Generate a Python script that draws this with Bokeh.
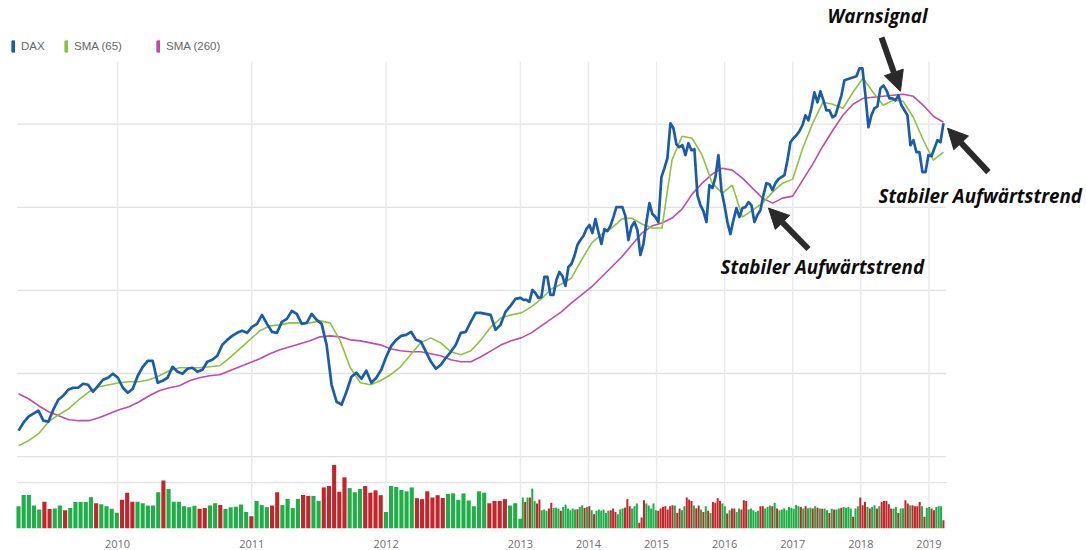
import numpy as np
from bokeh.plotting import figure
from bokeh.models import (Range1d, FixedTicker, Legend, LegendItem, Label, Arrow, NormalHead)
from bokeh.embed import file_html
from bokeh.resources import INLINE

# ---------------- data ----------------
year_labels = ["2010", "2011", "2012", "2013", "2014", "2015", "2016", "2017", "2018", "2019"]

# DAX closes, 2009 -> end of 2012 (coarse sampling)
dax_early = [4625, 4817, 4961, 5033, 5105, 4865, 4841, 5129, 5369, 5465,
             5609, 5657, 5657, 5753, 5729, 5561, 5705, 5850, 5898, 5994,
             5898, 5657, 5537, 5633, 5946, 6162, 6306, 6306, 5777, 5826,
             5898, 6162, 6042, 5994, 6114, 6138, 6042, 6090, 6282, 6330,
             6426, 6690, 6810, 6906, 6978, 7027, 6978, 7123, 7195, 7411,
             7195, 7003, 6978, 7243, 7315, 7507, 7435, 7195, 7219, 7435,
             7291, 7195, 6690, 5729, 5321, 5249, 5561, 5922, 6018, 5874,
             6066, 5777, 5898, 6090, 6402, 6666, 6810, 6906, 6930, 7003,
             6810, 6762, 6522, 6282, 6114, 6210, 6378, 6522, 6690, 6978,
             7003, 7243, 7459, 7459, 7435, 7411, 7051, 7171, 7483, 7627,
             7795]
# DAX closes, 2013 -> 2019 (compressed time axis)
dax_late = [7819, 7771, 7771, 7723, 8011, 7939, 7819, 7843, 8324, 8324,
            7891, 7891, 8252, 8444, 8348, 8107, 8564, 8636, 8828, 9092,
            9212, 9308, 9477, 9573, 9380, 9717, 9405, 9116, 9477, 9429,
            9549, 9765, 10005, 10005, 10005, 9789, 9212, 9525, 9645, 9453,
            8852, 9116, 9645, 10101, 9837, 9765, 9645, 10726, 10942, 11182,
            12023, 11903, 11518, 11446, 11494, 11254, 11542, 11374, 11398, 10293,
            10053, 9909, 9645, 10533, 10461, 10726, 11254, 10413, 10053, 9645,
            9356, 9693, 9981, 9765, 9981, 10005, 10125, 10053, 9645, 9813,
            9933, 10293, 10581, 10557, 10413, 10581, 10678, 10726, 10774, 11134,
            11566, 11662, 11734, 11831, 11975, 12215, 12095, 12383, 12767, 12527,
            12791, 12575, 12335, 12335, 12167, 12215, 12455, 12695, 13056, 13080,
            13104, 13128, 13152, 13344, 13344, 12695, 11927, 12215, 12383, 12431,
            12863, 12935, 12815, 12623, 12623, 12575, 12695, 12455, 12335, 12215,
            11494, 11614, 11326, 11326, 10846, 10846, 11254, 11230, 11422, 11614,
            11566, 12023]

sma65 = [4264, 4384, 4552, 4841, 5009, 5153, 5369, 5561, 5681, 5729,
         5777, 5802, 5802, 5850, 5946, 6066, 6138, 6138, 6138, 6162,
         6186, 6378, 6594, 6810, 7027, 7147, 7171, 7219, 7219, 7219,
         7267, 7219, 6786, 6138, 5777, 5729, 5826, 5970, 6162, 6450,
         6738, 6858, 6738, 6522, 6450, 6546, 6810, 7123, 7339, 7411,
         7459, 7603, 7795, 8035, 8155, 8300, 8732, 9140, 9356, 9501,
         9717, 9741, 9597, 9501, 9501, 11134, 11710, 11662, 11254, 10581,
         10341, 10533, 9765, 9933, 10101, 10365, 10581, 10678, 11422, 12023,
         12527, 12479, 12383, 12767, 13104, 12767, 12455, 12575, 12551, 12167,
         11614, 11134, 11326]

sma260 = [5513, 5393, 5225, 5081, 4985, 4889, 4865, 4865, 4937, 5033,
          5129, 5201, 5321, 5465, 5585, 5657, 5705, 5826, 5898, 5946,
          5970, 6066, 6162, 6258, 6354, 6474, 6570, 6642, 6714, 6786,
          6882, 6906, 6882, 6810, 6786, 6738, 6690, 6594, 6546, 6522,
          6522, 6474, 6426, 6330, 6282, 6282, 6402, 6546, 6690, 6786,
          6858, 6978, 7147, 7315, 7483, 7699, 7891, 8083, 8324, 8564,
          8804, 9092, 9380, 9549, 9621, 9741, 9957, 10317, 10581, 10798,
          10942, 10894, 10702, 10461, 10221, 10101, 10221, 10269, 10654, 11038,
          11470, 11855, 12215, 12479, 12623, 12647, 12671, 12695, 12719, 12671,
          12455, 12191, 12047]

vol_early = [0.97, 1.46, 1.46, 1.00, 0.83, 1.17, 0.85, 0.87, 1.00, 0.80,
             0.89, 1.15, 1.15, 1.15, 1.36, 1.10, 1.06, 0.97, 0.86, 0.69,
             1.25, 1.56, 1.16, 1.16, 1.10, 1.00, 1.00, 1.58, 2.09, 1.72,
             1.16, 1.16, 0.97, 0.93, 0.99, 0.86, 0.89, 1.00, 1.10, 1.02,
             0.85, 0.93, 0.95, 1.05, 0.72, 0.53, 1.20, 1.02, 0.93, 1.00,
             1.58, 1.02, 1.29, 0.89, 1.29, 1.46, 1.42, 1.42, 1.20, 1.79,
             1.85, 2.77, 1.60, 2.23, 1.76, 1.58, 1.72, 1.85, 1.56, 1.66,
             1.45, 0.72, 1.85, 1.81, 1.68, 1.62, 1.79, 1.32, 1.28, 1.62,
             1.35, 1.45, 1.33, 1.50, 1.53, 1.25, 1.53, 1.22, 0.97, 1.62,
             1.56, 1.10, 1.20, 1.20, 1.28, 1.00, 1.10, 0.42]
vol_early_dir = ("gggggrrggr" "gggggrgggg" "rrrgggggrg" "gggggrrggr" "gggggrgggr"
                 "rggggrrggr" "rrrrgggrrr" "rggggggrrr" "rrrggggggg" "grrrrggg")

vol_late = [1.35, 1.16, 1.35, 1.35, 1.74, 1.19, 1.09, 1.26, 0.80, 0.83,
            0.77, 0.87, 1.12, 0.90, 0.91, 0.87, 0.77, 0.94, 1.04, 0.87,
            0.80, 0.87, 0.83, 0.84, 0.94, 1.01, 0.90, 0.94, 0.97, 0.80,
            0.62, 0.77, 0.83, 0.77, 0.83, 0.68, 0.77, 0.80, 0.87, 0.72,
            0.62, 0.83, 0.87, 0.91, 1.28, 0.97, 0.87, 0.97, 1.09, 0.25,
            0.48, 1.23, 1.09, 1.00, 0.87, 1.09, 0.80, 0.77, 0.87, 0.94,
            0.97, 0.83, 0.97, 1.01, 1.00, 0.68, 0.87, 0.80, 0.97, 1.35,
            1.26, 1.20, 1.00, 0.88, 1.00, 0.83, 0.72, 0.97, 0.77, 0.68,
            1.16, 1.12, 1.32, 1.20, 1.09, 0.97, 0.65, 0.80, 0.87, 0.87,
            0.72, 0.87, 0.83, 1.23, 1.20, 0.83, 0.87, 0.80, 0.72, 0.77,
            0.97, 0.97, 0.87, 0.94, 1.00, 0.97, 1.12, 0.87, 0.80, 0.83,
            0.88, 0.80, 0.94, 0.90, 0.86, 1.03, 0.97, 0.94, 0.87, 0.97,
            0.88, 0.91, 0.87, 0.97, 0.91, 0.87, 0.86, 0.87, 0.80, 0.68,
            0.86, 0.83, 0.83, 0.87, 0.90, 0.94, 0.90, 0.94, 0.87, 0.51,
            0.87, 0.97, 1.35, 1.01, 1.16, 0.94, 0.87, 0.94, 1.01, 0.87,
            0.97, 1.16, 1.20, 1.20, 1.06, 0.87, 0.87, 0.94, 0.68, 0.87,
            0.88, 1.23, 1.09, 1.01, 1.01, 0.97, 0.97, 1.16, 0.97, 0.51,
            0.90, 0.94, 0.87, 0.80, 0.94, 0.97, 0.97, 0.36]
vol_late_dir = ("grgrggrrgg" "grrgggrggg" "gggrggrgrg" "rggggggrrr" "gggrrrgggr"
                "rrgggggrrr" "rrrrgrrggr" "rrgrrgrgrg" "rrrrggrgrr" "ggrrrggggg"
                "rrgggrgrgg" "gggggggrgr" "ggrgrgrggr" "grggrggggr" "ggrrrgrggr"
                "grrrrrggrg" "grrgrrrrgr" "ggrrgggr")

# ---------------- layout constants ----------------
LATE_YEAR = 0.507            # a year after 2013 is drawn at about half width
year_pos = [0.0, 1.0, 2.0, 3.0] + [round(3 + k * LATE_YEAR, 3) for k in range(1, 7)]
X_START, X_SPLIT, X_END = -0.737, 3.0, 6.15
PRICE_LO, PRICE_HI = 2270, 14977
VOL_HI = 23.0

BLUE, GREEN, MAGENTA = "#1b5ca8", "#8cc43f", "#c24aa8"
UP, DOWN = "#1fae48", "#c0272d"
GRID = "#e1e1e1"

p = figure(width=1086, height=550, output_backend="svg", toolbar_location=None,
           x_range=Range1d(-0.8712, 7.2152), y_range=Range1d(PRICE_LO, PRICE_HI),
           y_axis_location=None, min_border_left=0, min_border_right=0,
           min_border_top=0, min_border_bottom=0)
p.outline_line_color = None
p.xgrid.visible = False
p.ygrid.visible = False
p.extra_y_ranges = {"vol": Range1d(0, VOL_HI)}

# grid lines (only over the data area)
levels = [4000, 6000, 8000, 10000, 12000]
p.segment(x0=[X_START - 0.01] * len(levels), x1=[X_END + 0.02] * len(levels),
          y0=levels, y1=levels, line_color=GRID, line_width=1.3)
p.segment(x0=[X_START - 0.01], x1=[X_END + 0.02], y0=[2], y1=[2],
          line_color=GRID, line_width=1.3, y_range_name="vol")
p.segment(x0=year_pos, x1=year_pos, y0=[PRICE_LO] * len(year_pos),
          y1=[13500] * len(year_pos), line_color="#ebebeb", line_width=1.5)

# volume bars
xe = np.linspace(X_START, X_SPLIT, len(vol_early))
xl = np.linspace(X_SPLIT, X_END, len(vol_late) + 1)[1:]
ce = [UP if d == "g" else DOWN for d in vol_early_dir]
cl = [UP if d == "g" else DOWN for d in vol_late_dir]
p.vbar(x=xe, top=vol_early, bottom=0, width=(xe[1] - xe[0]) * 0.8,
       fill_color=ce, line_color=None, y_range_name="vol")
p.vbar(x=xl, top=vol_late, bottom=0, width=(xl[1] - xl[0]) * 0.85,
       fill_color=cl, line_color=None, y_range_name="vol")

# price lines
x_dax = np.concatenate([np.linspace(X_START, X_SPLIT, len(dax_early) + 1)[:-1],
                        np.linspace(X_SPLIT, X_END, len(dax_late))])
x_sma = np.linspace(X_START, X_END, len(sma65))
r260 = p.line(x_sma, sma260, line_color=MAGENTA, line_width=1.6)
r65 = p.line(x_sma, sma65, line_color=GREEN, line_width=1.6)
rdax = p.line(x_dax, dax_early + dax_late, line_color=BLUE, line_width=2.7,
              line_join="round")

# x axis with year labels
ax = p.xaxis[0]
ax.ticker = FixedTicker(ticks=year_pos)
ax.major_label_overrides = {pos: lab for pos, lab in zip(year_pos, year_labels)}
ax.axis_line_color = None
ax.major_tick_line_color = None
ax.minor_tick_line_color = None
ax.major_label_standoff = 5
ax.major_label_text_font = "Open Sans"
ax.major_label_text_font_size = "11px"
ax.major_label_text_color = "#6e6e6e"

# legend: small coloured bars
names = ["DAX", "SMA (65)", "SMA (260)"]
colors = [BLUE, GREEN, MAGENTA]
lx = [11, 64, 156]
for name, c, x in zip(names, colors, lx):
    dummy = p.rect(x=[np.nan], y=[np.nan], width=1, height=1,
                   fill_color=c, line_color=c)
    lg = Legend(items=[LegendItem(label=name, renderers=[dummy])],
                location=(x, 475), orientation="horizontal",
                glyph_width=4, glyph_height=14, label_height=14,
                label_standoff=6, padding=0, margin=0, spacing=0,
                border_line_color=None, background_fill_alpha=0,
                label_text_font="Liberation Sans", label_text_font_size="11.5px",
                label_text_color="#666666")
    p.add_layout(lg)

# annotations
AFONT = dict(text_font="Open Sans", text_font_style="bold italic", text_font_size="18.8px",
             text_color="#0d0d0d", text_baseline="middle")
p.add_layout(Label(x=5.659, y=14593, text="Warnsignal", text_align="center", **AFONT))
p.add_layout(Label(x=4.49, y=8564, text="Stabiler Aufwärtstrend", text_align="left", **AFONT))
p.add_layout(Label(x=5.666, y=10269, text="Stabiler Aufwärtstrend", text_align="left", **AFONT))

ARR = "#2a2a2a"
for (xs, ys, xe_, ye_) in [(5.689, 14088, 5.830, 12791),
                           (5.145, 8996, 4.847, 9981),
                           (6.485, 10846, 6.180, 11903)]:
    p.add_layout(Arrow(end=NormalHead(size=20, fill_color=ARR, line_color=ARR),
                       x_start=xs, y_start=ys, x_end=xe_, y_end=ye_,
                       line_color=ARR, line_width=6))

open("out.html", "w").write(file_html(p, INLINE))
